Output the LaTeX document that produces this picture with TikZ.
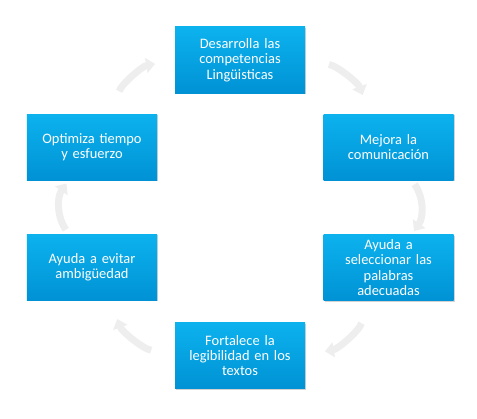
\documentclass[tikz,border=0pt]{standalone}
\usepackage{fontspec}
\setmainfont{Carlito}
\usetikzlibrary{arrows.meta,shadows}
\definecolor{cajaarriba}{RGB}{12,178,238}
\definecolor{cajaabajo}{RGB}{0,146,212}
\definecolor{flecha}{RGB}{238,238,238}

\begin{document}
\begin{tikzpicture}[x=1bp,y=1bp,
  caja/.style={rectangle,minimum width=130bp,minimum height=66bp,text width=126bp,
    align=center,inner sep=2bp,top color=cajaarriba,bottom color=cajaabajo,
    text=white,font=\fontsize{14.5}{15.5}\selectfont,
    drop shadow={opacity=0.35,shadow xshift=1bp,shadow yshift=-1.2bp}},
  ciclo/.style={draw=flecha,line width=7bp,shorten <=24bp,shorten >=20bp,
    -{Triangle[width=15bp,length=9bp]}},
  corto/.style={shorten <=5bp,shorten >=4bp}]
  % marco
  \useasboundingbox (0,0) rectangle (477,418);

  % cajas
  \node[caja] (desarrolla) at (240,358) {Desarrolla las\\competencias\\Lingüisticas};
  \node[caja] (mejora) at (388.5,271) {Mejora la\\comunicación};
  \node[caja] (selecciona) at (388.5,150.5) {Ayuda a\\seleccionar las\\palabras\\adecuadas};
  \node[caja] (fortalece) at (240,62.5) {Fortalece la\\legibilidad en los\\textos};
  \node[caja] (evita) at (92,151) {Ayuda a evitar\\ambigüedad};
  \node[caja] (optimiza) at (92,271) {Optimiza tiempo\\y esfuerzo};

  % flechas del ciclo
  \draw[ciclo] (desarrolla) to[bend left=30] (mejora);
  \draw[ciclo,corto] (mejora) to[bend left=35] (selecciona);
  \draw[ciclo] (selecciona) to[bend left=30] (fortalece);
  \draw[ciclo] (fortalece) to[bend left=30] (evita);
  \draw[ciclo,corto] (evita) to[bend left=35] (optimiza);
  \draw[ciclo] (optimiza) to[bend left=30] (desarrolla);
\end{tikzpicture}
\end{document}
